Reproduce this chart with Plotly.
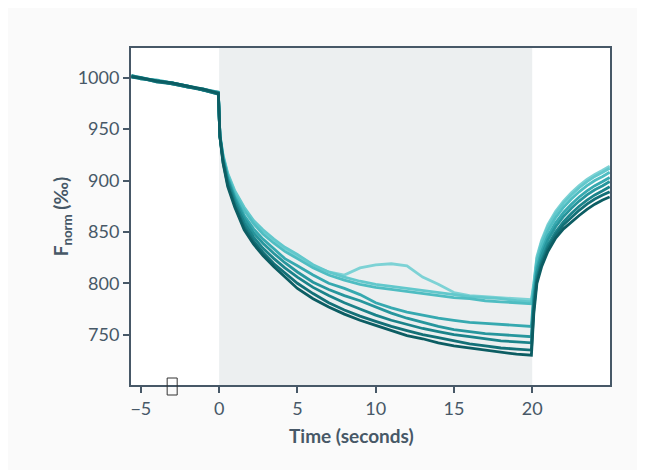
import plotly.graph_objects as go

# ---- data ----
time_pre = [-5.6, -5, -4, -3, -2, -1, -0.05]
time_decay = [0.05, 0.25, 0.55, 1.0, 1.6, 2.2, 2.8, 3.5, 4.2, 5, 6, 7, 8, 9, 10,
              11, 12, 13, 14, 15, 16, 17, 18, 19, 19.95]
time_rec = [20.1, 20.3, 20.6, 21, 21.5, 22, 22.5, 23, 23.5, 24, 24.5, 24.95]

pre_1 = [1002, 1000, 997, 995, 992, 989, 985]
pre_2 = [1001, 1000, 997, 994, 992, 988, 986]
pre_3 = [1002, 999, 998, 995, 991, 989, 985]
pre_4 = [1001, 1000, 996, 995, 992, 988, 984]
pre_5 = [1002, 1000, 997, 994, 991, 989, 986]
pre_6 = [1001, 999, 997, 995, 992, 988, 985]
pre_7 = [1002, 1000, 996, 994, 991, 988, 984]
pre_8 = [1001, 1000, 997, 995, 992, 989, 985]

decay_1 = [945, 924, 906, 889, 873, 860, 851, 842, 834, 826, 817, 811, 808, 815, 818,
           819, 817, 806, 799, 791, 788, 787, 786, 785, 784]
decay_2 = [944, 925, 907, 890, 874, 861, 852, 843, 835, 828, 818, 811, 806, 802, 799,
           797, 795, 793, 791, 789, 787, 786, 785, 783, 782]
decay_3 = [944, 923, 905, 887, 871, 858, 848, 839, 831, 824, 815, 808, 803, 799, 796,
           794, 792, 790, 788, 786, 785, 783, 782, 781, 780]
decay_4 = [944, 922, 903, 884, 866, 853, 843, 833, 824, 817, 808, 800, 795, 789, 781,
           776, 772, 769, 766, 764, 762, 761, 760, 759, 758]
decay_5 = [943, 921, 901, 882, 863, 849, 839, 829, 820, 811, 801, 794, 788, 783, 777,
           771, 766, 762, 758, 755, 753, 751, 750, 749, 748]
decay_6 = [943, 920, 899, 879, 859, 845, 834, 824, 815, 806, 796, 788, 781, 775, 769,
           764, 760, 756, 753, 750, 748, 746, 744, 743, 742]
decay_7 = [943, 918, 896, 876, 855, 841, 830, 819, 810, 800, 790, 781, 774, 768, 763,
           758, 754, 750, 747, 744, 741, 739, 737, 736, 735]
decay_8 = [943, 917, 894, 874, 852, 838, 827, 816, 806, 795, 785, 777, 770, 764, 759,
           754, 749, 746, 742, 739, 737, 735, 733, 731, 730]

rec_1 = [800, 826, 842, 857, 870, 880, 888, 895, 901, 906, 910, 914]
rec_2 = [798, 824, 840, 855, 868, 878, 886, 893, 899, 904, 908, 912]
rec_3 = [796, 821, 836, 851, 864, 874, 882, 889, 895, 900, 904, 908]
rec_4 = [790, 815, 831, 846, 859, 869, 877, 884, 890, 895, 899, 903]
rec_5 = [785, 811, 827, 842, 855, 865, 873, 880, 886, 891, 895, 899]
rec_6 = [780, 806, 822, 837, 850, 860, 868, 875, 881, 886, 890, 894]
rec_7 = [775, 803, 819, 834, 847, 857, 864, 871, 877, 882, 886, 889]
rec_8 = [770, 800, 816, 831, 844, 853, 860, 866, 872, 877, 881, 884]

colors = ["#7dd2d5", "#62c8cc", "#4fbdc2", "#36a9b0", "#27969d", "#1b838a", "#137077", "#0c5d63"]

x_ticks = [-5, 0, 5, 10, 15, 20]
y_ticks = [750, 800, 850, 900, 950, 1000]
stim_start, stim_end = 0, 20

pres = [pre_1, pre_2, pre_3, pre_4, pre_5, pre_6, pre_7, pre_8]
decays = [decay_1, decay_2, decay_3, decay_4, decay_5, decay_6, decay_7, decay_8]
recs = [rec_1, rec_2, rec_3, rec_4, rec_5, rec_6, rec_7, rec_8]

axis_col = "#475867"
font_fam = "Lato, 'Open Sans', sans-serif"

fig = go.Figure()
for i in range(8):
    xs = time_pre + time_decay + time_rec
    ys = pres[i] + decays[i] + recs[i]
    fig.add_trace(go.Scatter(x=xs, y=ys, mode="lines",
                             line=dict(color=colors[i], width=2.8),
                             showlegend=False, hoverinfo="skip"))

# figure sits at an 8px page offset
W, H = 645, 470
ml, mr, mt, mb = 123, 43, 40, 93
pw, ph = W - ml - mr, H - mt - mb

def px_to_paper_x(px):  # px in page pixels
    return ((px - 8) - ml) / pw

def px_to_paper_y(py):  # py in page pixels
    return (H - mb - (py - 8)) / ph

shapes = [
    dict(type="rect", xref="paper", yref="paper", x0=0, x1=1, y0=0, y1=1,
         fillcolor="#ffffff", line=dict(width=0), layer="below"),
    dict(type="rect", xref="x", yref="paper", x0=stim_start, x1=stim_end, y0=0, y1=1,
         fillcolor="#eceff0", line=dict(width=0), layer="below"),
    # missing-glyph box near the x axis
    dict(type="rect", xref="x", yref="paper", x0=-3.32, x1=-2.68,
         y0=px_to_paper_y(395), y1=px_to_paper_y(378),
         fillcolor="rgba(0,0,0,0)", line=dict(color="#333333", width=1), layer="above"),
]

annotations = [
    dict(text="<b>Time (seconds)</b>", xref="paper", yref="paper",
         x=px_to_paper_x(351), y=px_to_paper_y(435), xanchor="center", yanchor="middle",
         showarrow=False, font=dict(size=19, color=axis_col, family=font_fam)),
]

fig.update_layout(
    width=W, height=H,
    margin=dict(l=ml, r=mr, t=mt, b=mb, pad=0),
    paper_bgcolor="#fafafa",
    plot_bgcolor="rgba(0,0,0,0)",
    shapes=shapes,
    annotations=annotations,
    font=dict(family=font_fam, color=axis_col),
)
fig.update_xaxes(range=[-5.63, 24.97], tickvals=x_ticks, ticks="outside", ticklen=6,
                 tickwidth=2, tickcolor=axis_col, showline=True, linecolor=axis_col,
                 linewidth=2, mirror=True, showgrid=False, zeroline=False,
                 tickfont=dict(size=18, color=axis_col))
fig.update_yaxes(range=[701, 1029], tickvals=y_ticks, ticks="outside", ticklen=6,
                 tickwidth=2, tickcolor=axis_col, showline=True, linecolor=axis_col,
                 linewidth=2, mirror=True, showgrid=False, zeroline=False,
                 tickfont=dict(size=18, color=axis_col),
                 title=dict(text="<b>F<sub>norm</sub> (‰)</b>", font=dict(size=19, color=axis_col),
                            standoff=4))

fig.write_html("out.html")
